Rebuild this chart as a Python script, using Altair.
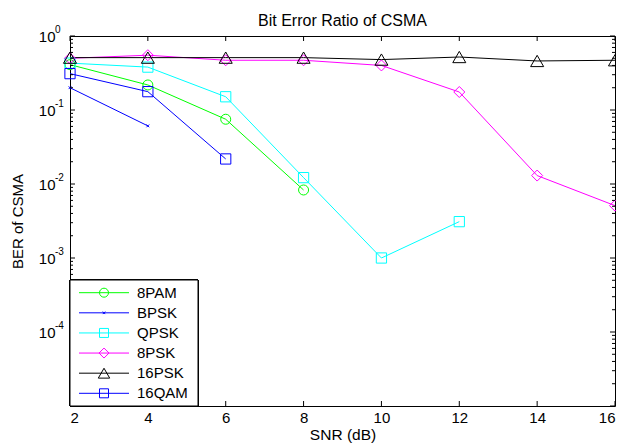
import altair as alt
import pandas as pd

# ---------------- data ----------------
series = ["8PAM", "BPSK", "QPSK", "8PSK", "16PSK", "16QAM"]
colors = ["#00ff00", "#0000ff", "#00ffff", "#ff00ff", "#000000", "#0000ff"]
shapes = ["circle", "M-0.5,-0.5L0.5,0.5M-0.5,0.5L0.5,-0.5", "square", "diamond", "triangle-up", "square"]
marker_sizes = [100, 30, 105, 121, 170, 105]
legend_marker_sizes = [81, 25, 81, 100, 130, 81]

snr_8pam = [2, 4, 6, 8]
ber_8pam = [0.41, 0.218, 0.075, 0.0083]

snr_bpsk = [2, 4]
ber_bpsk = [0.20, 0.061]

snr_qpsk = [2, 4, 6, 8, 10, 12]
ber_qpsk = [0.43, 0.38, 0.151, 0.0122, 0.001, 0.0031]

snr_8psk = [2, 4, 6, 8, 10, 12, 14, 16]
ber_8psk = [0.50, 0.55, 0.47, 0.47, 0.40, 0.175, 0.013, 0.0051]

snr_16psk = [2, 4, 6, 8, 10, 12, 14, 16]
ber_16psk = [0.51, 0.51, 0.51, 0.51, 0.48, 0.52, 0.46, 0.47]

snr_16qam = [2, 4, 6]
ber_16qam = [0.31, 0.177, 0.0218]

x_ticks = [2, 4, 6, 8, 10, 12, 14, 16]
y_major = [1, 0.1, 0.01, 0.001, 0.0001, 0.00001]
y_labels = [1, 0.1, 0.01, 0.001, 0.0001]
y_exponents = ["0", "-1", "-2", "-3", "-4"]
minor_mult = [2, 3, 4, 5, 6, 7, 8, 9]
minor_decades = [0.00001, 0.0001, 0.001, 0.01, 0.1]

# ---------------- tables ----------------
rows = []
for name, xs, ys in [("8PAM", snr_8pam, ber_8pam), ("BPSK", snr_bpsk, ber_bpsk),
                     ("QPSK", snr_qpsk, ber_qpsk), ("8PSK", snr_8psk, ber_8psk),
                     ("16PSK", snr_16psk, ber_16psk), ("16QAM", snr_16qam, ber_16qam)]:
    for i, (x, y) in enumerate(zip(xs, ys)):
        rows.append({"series": name, "SNR": x, "BER": y, "idx": i, "sidx": series.index(name)})
df = pd.DataFrame(rows)

major_df = pd.DataFrame({"BER": y_major})
minor_df = pd.DataFrame({"BER": [m * d for d in minor_decades for m in minor_mult]})
label_df = pd.DataFrame({"BER": y_labels, "exp": y_exponents})
xt_df = pd.DataFrame({"SNR": x_ticks})
leg_df = pd.DataFrame({"series": series, "row": list(range(len(series)))})

W, H = 545, 370
FONT = "Liberation Sans"

xscale = alt.Scale(domain=[2, 16], nice=False, zero=False)
yscale = alt.Scale(type="log", domain=[0.00001, 1], nice=False)
cscale = alt.Scale(domain=series, range=colors)
sscale = alt.Scale(domain=series, range=shapes)

x_axis = alt.Axis(values=x_ticks, grid=False, ticks=False, tickSize=0, domain=False,
                  labelFontSize=15, labelPadding=4, labelFont=FONT, labelColor="black",
                  title="SNR (dB)", titleFont=FONT, titleFontSize=15.5, titleFontWeight="normal",
                  titleColor="black", titleY=28, titleBaseline="middle")
y_axis = alt.Axis(values=y_labels, labelExpr="'10'", grid=False, ticks=False, tickSize=0,
                  domain=False, labelFontSize=15, labelPadding=15, labelFont=FONT,
                  labelColor="black", labelBaseline="middle",
                  title="BER of CSMA", titleFont=FONT, titleFontSize=15, titleFontWeight="normal",
                  titleColor="black", titleX=-53, titleY=H / 2, titleAngle=270,
                  titleAlign="center", titleBaseline="middle")

lines = alt.Chart(df).mark_line(strokeWidth=1).encode(
    x=alt.X("SNR:Q", scale=xscale, axis=x_axis),
    y=alt.Y("BER:Q", scale=yscale, axis=y_axis),
    color=alt.Color("series:N", scale=cscale, legend=None),
    detail="sidx:O",
    order="idx:Q",
)

points = alt.Chart(df).mark_point(filled=False, strokeWidth=1, opacity=1).encode(
    x=alt.X("SNR:Q", scale=xscale),
    y=alt.Y("BER:Q", scale=yscale, axis=None),
    color=alt.Color("series:N", scale=cscale, legend=None),
    shape=alt.Shape("series:N", scale=sscale, legend=None),
    size=alt.Size("series:N", scale=alt.Scale(type="ordinal", domain=series, range=marker_sizes), legend=None),
)

exps = alt.Chart(label_df).mark_text(align="left", baseline="middle", dy=-6, fontSize=10,
                                      font=FONT, color="black").encode(
    x=alt.value(-15),
    y=alt.Y("BER:Q", scale=yscale, axis=None),
    text="exp:N",
)

def yticks(data, x0, x1):
    return alt.Chart(data).mark_rule(color="black", strokeWidth=1).encode(
        y=alt.Y("BER:Q", scale=yscale, axis=None), x=alt.value(x0), x2=alt.value(x1))

def xticks(y0, y1):
    return alt.Chart(xt_df).mark_rule(color="black", strokeWidth=1).encode(
        x=alt.X("SNR:Q", scale=xscale), y=alt.value(y0), y2=alt.value(y1))

tick_layers = [
    yticks(major_df, 0, 5), yticks(minor_df, 0, 3),
    yticks(major_df, W - 5, W), yticks(minor_df, W - 3, W),
    xticks(H - 5, H), xticks(0, 5),
]

# ---------------- legend ----------------
leg_y = alt.Scale(domain=[0, 5], range=[256.7, 357.3])
box = alt.Chart(leg_df).mark_rect(fill="white", stroke="black", strokeWidth=1).encode(
    x=alt.value(0), x2=alt.value(128), y=alt.value(244), y2=alt.value(370))
leg_lines = alt.Chart(leg_df).mark_rule(strokeWidth=1).encode(
    x=alt.value(9), x2=alt.value(59),
    y=alt.Y("row:Q", scale=leg_y, axis=None),
    color=alt.Color("series:N", scale=cscale, legend=None))
leg_pts = alt.Chart(leg_df).mark_point(filled=False, strokeWidth=1, opacity=1).encode(
    x=alt.value(34),
    y=alt.Y("row:Q", scale=leg_y, axis=None),
    color=alt.Color("series:N", scale=cscale, legend=None),
    shape=alt.Shape("series:N", scale=sscale, legend=None),
    size=alt.Size("series:N", scale=alt.Scale(type="ordinal", domain=series, range=legend_marker_sizes), legend=None))
leg_text = alt.Chart(leg_df).mark_text(align="left", baseline="middle", fontSize=15,
                                        font=FONT, color="black").encode(
    x=alt.value(67),
    y=alt.Y("row:Q", scale=leg_y, axis=None),
    text="series:N")

chart = alt.layer(
    lines, points, *tick_layers, exps, box, leg_lines, leg_pts, leg_text
).resolve_scale(y="independent", size="independent").properties(
    width=W, height=H,
    autosize=alt.AutoSizeParams(type="none"),
    padding={"left": 62, "top": 28, "right": 1, "bottom": 39},
    title=alt.TitleParams("Bit Error Ratio of CSMA", font=FONT, fontSize=16,
                          fontWeight="normal", color="black", anchor="middle",
                          offset=8, dy=12),
).configure_view(stroke="black", strokeWidth=1)

chart.save("out.html", embed_options={"renderer": "svg", "actions": False})
